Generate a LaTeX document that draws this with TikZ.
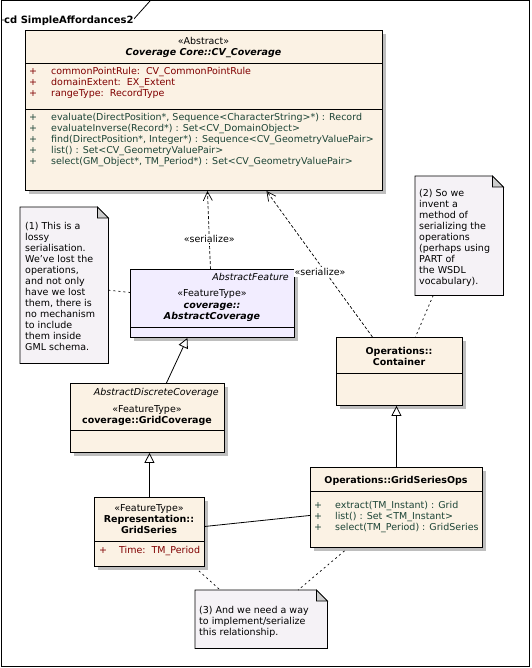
\documentclass[tikz,border=0pt]{standalone}
\usepackage{fontspec}
\setmainfont{DejaVu Sans}
\usetikzlibrary{positioning, calc, arrows.meta, shadows, backgrounds}

\definecolor{attrred}{RGB}{128,0,0}
\definecolor{opgreen}{RGB}{28,68,54}
\definecolor{classfill}{RGB}{251,242,228}
\definecolor{absfill}{RGB}{242,237,255}
\definecolor{notefill}{RGB}{245,242,246}
\definecolor{foldfill}{RGB}{205,205,205}
\definecolor{shadowgray}{RGB}{190,190,190}

\tikzset{
    txt/.style={inner sep=0pt, font=\fontsize{9.5}{11}\selectfont},
    classbox/.style={draw, line width=0.9pt, fill=classfill, inner sep=0pt, anchor=north west,
        drop shadow={shadow xshift=4pt, shadow yshift=-4pt, fill=shadowgray, opacity=1}},
    notebox/.style={draw, line width=0.8pt, fill=notefill},
    fold/.style={draw, line width=0.8pt, fill=foldfill},
    dep/.style={densely dashed, line width=0.7pt, -{Straight Barb[length=9pt,width=9pt]}},
    gen/.style={line width=0.8pt, -{Triangle[open,length=10pt,width=10pt,fill=white]}},
    anchorline/.style={dash pattern=on 2pt off 3pt, line width=0.7pt},
}

\begin{document}
\begin{tikzpicture}[x=1pt, y=-1pt]
\useasboundingbox (0,0) rectangle (531,668);
\draw[line width=1pt] (1,1) rectangle (529,666);
\draw[line width=0.8pt] (1,20) -- (133,20) -- (150,1);
\node[txt, font=\fontsize{10}{11}\selectfont\bfseries, fill=white, inner xsep=0.5pt, anchor=base west] (title) at (3.5,23.5) {cd SimpleAffordances2};

% class boxes
\node[classbox, minimum width=357pt, minimum height=160pt] (cov) at (25,30) {};
\node[classbox, fill=absfill, minimum width=164pt, minimum height=68pt] (abscov) at (130,269) {};
\node[classbox, minimum width=154pt, minimum height=69pt] (gridcov) at (70,383) {};
\node[classbox, minimum width=110pt, minimum height=69pt] (gridser) at (94,497) {};
\node[classbox, minimum width=126pt, minimum height=68pt] (cont) at (336,337) {};
\node[classbox, minimum width=172pt, minimum height=80pt] (ops) at (310,467) {};

\draw[line width=0.8pt] (cov.west |- 0,63) -- (cov.east |- 0,63);
\draw[line width=0.8pt] (cov.west |- 0,109) -- (cov.east |- 0,109);
\draw[line width=0.8pt] (abscov.west |- 0,327) -- (abscov.east |- 0,327);
\draw[line width=0.8pt] (gridcov.west |- 0,430) -- (gridcov.east |- 0,430);
\draw[line width=0.8pt] (gridser.west |- 0,541) -- (gridser.east |- 0,541);
\draw[line width=0.8pt] (cont.west |- 0,373) -- (cont.east |- 0,373);
\draw[line width=0.8pt] (ops.west |- 0,491) -- (ops.east |- 0,491);

% CV_Coverage
\node[txt, anchor=base] (covst) at (203.5,45) {«Abstract»};
\node[txt, anchor=base, font=\fontsize{9.5}{11}\selectfont\bfseries\itshape] (covname) at (203.5,56) {Coverage Core::CV\_Coverage};
\foreach \t [count=\i from 0] in {{commonPointRule:\ \ CV\_CommonPointRule}, {domainExtent:\ \ EX\_Extent}, {rangeType:\ \ RecordType}}{
    \node[txt, text=attrred, anchor=base west] at (29,{75+11*\i}) {+};
    \node[txt, text=attrred, anchor=base west] at (51,{75+11*\i}) {\t};
}
\foreach \t [count=\i from 0] in {{evaluate(DirectPosition*, Sequence<CharacterString>*) : Record}, {evaluateInverse(Record*) : Set<CV\_DomainObject>}, {find(DirectPosition*, Integer*) : Sequence<CV\_GeometryValuePair>}, {list() : Set<CV\_GeometryValuePair>}, {select(GM\_Object*, TM\_Period*) : Set<CV\_GeometryValuePair>}}{
    \node[txt, text=opgreen, anchor=base west] at (29,{121+11*\i}) {+};
    \node[txt, text=opgreen, anchor=base west] at (51,{121+11*\i}) {\t};
}

% AbstractCoverage
\node[txt, anchor=base east, font=\fontsize{9.5}{11}\selectfont\itshape] (absfeat) at (289,280) {AbstractFeature};
\node[txt, anchor=base] (absst) at (212,296) {«FeatureType»};
\node[txt, anchor=base, align=center, font=\fontsize{9.5}{11}\selectfont\bfseries\itshape] (absname) at (212,319) {coverage::\\AbstractCoverage};

% GridCoverage
\node[txt, anchor=base east, font=\fontsize{9.5}{11}\selectfont\itshape] (gcabs) at (219,395) {AbstractDiscreteCoverage};
\node[txt, anchor=base] (gcst) at (147,412) {«FeatureType»};
\node[txt, anchor=base, font=\fontsize{9.5}{11}\selectfont\bfseries] (gcname) at (147,423) {coverage::GridCoverage};

% GridSeries
\node[txt, anchor=base] (gsst) at (149,511) {«FeatureType»};
\node[txt, anchor=base, align=center, font=\fontsize{9.5}{11}\selectfont\bfseries] (gsname) at (149,533) {Representation::\\GridSeries};
\node[txt, text=attrred, anchor=base west] at (99,553) {+};
\node[txt, text=attrred, anchor=base west] at (119,553) {Time:\ \ TM\_Period};

% Container
\node[txt, anchor=base, align=center, font=\fontsize{9.5}{11}\selectfont\bfseries] (contname) at (399,365) {Operations::\\Container};

% GridSeriesOps
\node[txt, anchor=base, font=\fontsize{9.5}{11}\selectfont\bfseries] (opsname) at (396,483) {Operations::GridSeriesOps};
\foreach \t [count=\i from 0] in {{extract(TM\_Instant) : Grid}, {list() : Set <TM\_Instant>}, {select(TM\_Period) : GridSeries}}{
    \node[txt, text=opgreen, anchor=base west] at (314,{508+11*\i}) {+};
    \node[txt, text=opgreen, anchor=base west] at (335,{508+11*\i}) {\t};
}

% notes
\node[minimum width=88pt, minimum height=156pt, anchor=north west] (noteA) at (20,207) {};
\node[minimum width=88pt, minimum height=119pt, anchor=north west] (noteB) at (415,176) {};
\node[minimum width=132pt, minimum height=58pt, anchor=north west] (noteC) at (195,590) {};
\begin{scope}[on background layer]
\foreach \n in {noteA,noteB,noteC}{
    \draw[notebox] (\n.north west) -- ([xshift=-11pt]\n.north east) -- ([yshift=-11pt]\n.north east) -- (\n.south east) -- (\n.south west) -- cycle;
    \draw[fold] ([xshift=-11pt]\n.north east) -- ([xshift=-11pt,yshift=-11pt]\n.north east) -- ([yshift=-11pt]\n.north east) -- cycle;
}
\end{scope}
\node[txt, anchor=base west, align=left] (noteAtxt) at (25,350) {(1) This is a\\lossy\\serialisation.\\We've lost the\\operations,\\and not only\\have we lost\\them, there is\\no mechanism\\to include\\them inside\\GML schema.};
\node[txt, anchor=base west, align=left] (noteBtxt) at (419,284) {(2) So we\\invent a\\method of\\serializing the\\operations\\(perhaps using\\PART of\\the WSDL\\vocabulary).};
\node[txt, anchor=base west, align=left] (noteCtxt) at (199,635) {(3) And we need a way\\to implement/serialize\\this relationship.};

% connectors
\draw[dep] ([xshift=-2pt]abscov.north) -- node[txt, fill=white, inner sep=1pt, pos=0.39] (ser1) {«serialize»} ([xshift=3.5pt]cov.south);
\draw[dep] ([xshift=-27pt]cont.north) -- ([xshift=62.5pt]cov.south);
\node[txt, fill=white, inner sep=1pt] (ser2) at (320,272) {«serialize»};
\draw[gen] ([xshift=19pt]gridcov.north) -- ([xshift=-25pt]abscov.south);
\draw[gen] (gridser.north) -- (gridser.north |- gridcov.south);
\draw[gen] (ops.north) -- (ops.north |- cont.south);
\draw[line width=0.8pt] ([yshift=5.5pt]gridser.east) -- ([yshift=-8pt]ops.west);
\draw[anchorline] ([yshift=-5pt]noteA.east) -- ([yshift=11pt]abscov.west);
\draw[anchorline] ([xshift=-26pt]noteB.south) -- ([xshift=16pt]cont.north);
\draw[anchorline] ([xshift=-6pt,yshift=-4pt]gridser.south east) -- ([xshift=-41pt]noteC.north);
\draw[anchorline] ([xshift=-52pt,yshift=-3pt]ops.south) -- ([xshift=37pt]noteC.north);
\end{tikzpicture}
\end{document}
